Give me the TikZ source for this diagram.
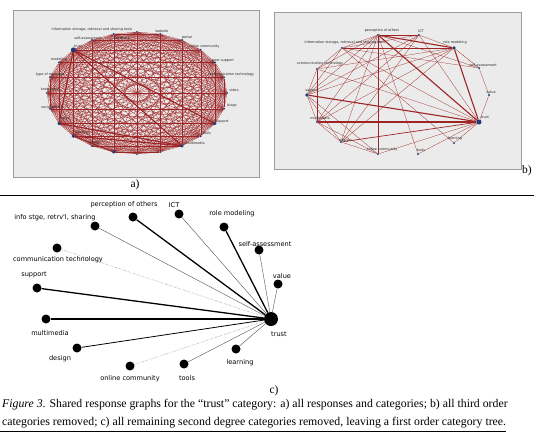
\documentclass[tikz,border=0pt]{standalone}
\usepackage{fontspec}
\setmainfont{Liberation Serif}
\newfontfamily\graphfont{DejaVu Sans}
\usepackage{tikz}
\usetikzlibrary{positioning}

\definecolor{panelgray}{HTML}{EBEBEB}
\definecolor{framegray}{HTML}{9C9C9C}
\definecolor{tiered}{HTML}{9E2526}
\definecolor{vertexblue}{HTML}{1F3C7A}

\begin{document}
\begin{tikzpicture}[x=1pt, y=-1pt,
    panel/.style  = {draw=framegray, fill=panelgray, line width=0.8pt},
    tie/.style    = {draw=tiered, line width=0.25pt},
    bigtie/.style = {draw=tiered, line width=1.1pt},
    vtx/.style    = {circle, fill=vertexblue, inner sep=0pt, minimum size=2.4pt},
    bvtx/.style   = {circle, fill=vertexblue, inner sep=0pt, minimum size=3.6pt},
    hub/.style    = {circle, fill=vertexblue, inner sep=0pt, minimum size=5pt},
    tiny/.style   = {font=\graphfont\fontsize{3.4}{4}\selectfont, inner sep=0pt, text=black!85},
    leaf/.style   = {circle, fill=black, inner sep=0pt, minimum size=9pt},
    root/.style   = {circle, fill=black, inner sep=0pt, minimum size=14pt},
    lbl/.style    = {font=\graphfont\fontsize{6.6}{7.5}\selectfont, inner sep=0pt},
    strong/.style = {line width=1.3pt},
    mid/.style    = {line width=0.8pt},
    weak/.style   = {line width=0.35pt, black!75},
    faint/.style  = {line width=0.35pt, densely dotted, black!65},
    sub/.style    = {font=\fontsize{11.5}{13}\selectfont, inner sep=0pt},
    caption/.style= {font=\fontsize{11.8}{13}\selectfont, inner sep=0pt},
  ]
    \useasboundingbox[fill=white] (0,0) rectangle (549,445);

    % --- a) all responses and categories ---
    \draw[panel] (13,10) rectangle (259,177);
    \foreach \k in {0,...,23}
      \node[vtx] (a\k) at ({137+90*cos(90-15*\k)}, {93-61*sin(90-15*\k)}) {};
    \foreach \i in {0,...,22} {
      \pgfmathtruncatemacro\j{\i+1}
      \foreach \k in {\j,...,23}
        \draw[tie] (a\i) -- (a\k);
    }
    \foreach \i/\k in {21/8, 21/10, 21/15, 21/16, 15/10, 16/8, 15/13, 16/10}
      \draw[bigtie] (a\i) -- (a\k);
    \foreach \k in {8, 10, 13, 15, 16}
      \node[bvtx] at (a\k) {};
    \node[hub] at (a21) {};
    \foreach \k/\txt/\x/\y in {
        0/{information storage, retrieval and sharing tools}/92/30,
        1/website/162/31, 2/portal/187/38, 3/online community/204/47,
        4/peer support/223/61, 5/communication technology/231/75,
        6/video/234/90, 7/blogs/232/106, 8/support/222/122,
        9/tools/207/133, 10/multimedia/195/143, 14/design/95/143,
        15/learning/82/133, 16/value/65/118, 17/social media/52/107,
        18/knowledge/50/90, 19/type of message/50/75, 20/modeling/59/60,
        21/trust/78/46, 22/self-assessment/88/38, 23/feedback/122/38}
      \node[tiny] (la\k) at (\x,\y) {\txt};
    \node[sub] (tagA) at (135,185) {a)};

    % --- b) third order categories removed ---
    \draw[panel] (274,12) rectangle (521,169);
    \node[vtx]  (bperc)   at (378,35)  {};
    \node[vtx]  (bict)    at (419,35)  {};
    \node[bvtx] (brole)   at (454,48)  {};
    \node[vtx]  (bself)   at (479,68)  {};
    \node[vtx]  (bval)    at (489,95)  {};
    \node[hub]  (btrust)  at (479,122) {};
    \node[vtx]  (blearn)  at (454,143) {};
    \node[vtx]  (btools)  at (418,154) {};
    \node[vtx]  (bonline) at (378,154) {};
    \node[vtx]  (bdesign) at (341,142) {};
    \node[vtx]  (bmulti)  at (317,122) {};
    \node[bvtx] (bsupp)   at (307,95)  {};
    \node[vtx]  (bcomm)   at (317,69)  {};
    \node[vtx]  (binfo)   at (342,48)  {};

    \foreach \u/\v in {perc/info, perc/comm, perc/supp, perc/multi, perc/design,
        perc/online, perc/tools, perc/ict, perc/self, ict/supp, ict/multi,
        ict/design, ict/info, ict/trust, ict/role, role/info, role/supp,
        role/multi, role/design, role/self, role/comm, self/val, self/info,
        val/trust, trust/comm, trust/info, trust/learn, trust/tools,
        trust/online, supp/comm, supp/info, supp/multi, supp/design,
        supp/online, multi/design, multi/online, comm/info, comm/multi,
        design/online, info/learn}
      \draw[tie] (b\u) -- (b\v);
    \foreach \u/\v in {trust/perc, trust/role, trust/supp, trust/multi, perc/role}
      \draw[bigtie] (b\u) -- (b\v);
    \draw[tiered, line width=0.7pt] (btrust) -- (bdesign);

    \node[tiny] (lbperc)   at (382,31)  {perception of others};
    \node[tiny] (lbict)    at (421,31)  {ICT};
    \node[tiny] (lbrole)   at (455,43)  {role modeling};
    \node[tiny] (lbself)   at (483,65)  {self-assessment};
    \node[tiny] (lbval)    at (491,92)  {value};
    \node[tiny] (lbtrust)  at (485,117) {trust};
    \node[tiny] (lblearn)  at (455,139) {learning};
    \node[tiny] (lbtools)  at (421,150) {tools};
    \node[tiny] (lbonline) at (382,150) {online community};
    \node[tiny] (lbdesign) at (345,141) {design};
    \node[tiny] (lbmulti)  at (320,118) {multimedia};
    \node[tiny] (lbsupp)   at (312,91)  {support};
    \node[tiny] (lbcomm)   at (320,64)  {communication technology};
    \node[tiny] (lbinfo)   at (345,43)  {information storage, retrieval and sharing tools};
    \node[sub, anchor=west] (tagB) at (522,171) {b)};

    % --- rule between the panels ---
    \coordinate (ruleL) at (0,195);
    \coordinate (ruleR) at (534,195);
    \draw[line width=0.9pt] (ruleL) -- (ruleR);

    % --- c) first order category tree ---
    \node[root] (trust)  at (271,319) {};
    \node[leaf] (perc)   at (133,217) {};
    \node[leaf] (ict)    at (179,214) {};
    \node[leaf] (info)   at (95,226)  {};
    \node[leaf] (role)   at (224,227) {};
    \node[leaf] (self)   at (259,250) {};
    \node[leaf] (comm)   at (57,248)  {};
    \node[leaf] (val)    at (278,284) {};
    \node[leaf] (supp)   at (37,288)  {};
    \node[leaf] (multi)  at (46,319)  {};
    \node[leaf] (design) at (77,348)  {};
    \node[leaf] (learn)  at (236,349) {};
    \node[leaf] (tools)  at (184,364) {};
    \node[leaf] (online) at (130,366) {};

    \draw[strong] (trust) -- (perc);
    \draw[strong] (trust) -- (role);
    \draw[strong] (trust) -- (supp);
    \draw[strong] (trust) -- (multi);
    \draw[mid]    (trust) -- (design);
    \foreach \v in {ict, info, self, val, learn, tools}
      \draw[weak] (trust) -- (\v);
    \draw[faint]  (trust) -- (comm);
    \draw[faint]  (trust) -- (online);

    \node[lbl] (lperc)   at (124,205) {perception of others};
    \node[lbl] (lict)    at (174,205) {ICT};
    \node[lbl] (linfo)   at (55,218)  {info stge, retrv'l, sharing};
    \node[lbl] (lrole)   at (232,214) {role modeling};
    \node[lbl] (lself)   at (265,244) {self-assessment};
    \node[lbl] (lcomm)   at (58,260)  {communication technology};
    \node[lbl] (lsupp)   at (34,275)  {support};
    \node[lbl] (lval)    at (282,276) {value};
    \node[lbl] (lmulti)  at (50,333)  {multimedia};
    \node[lbl] (ltrust)  at (279,334) {trust};
    \node[lbl] (ldesign) at (60,359)  {design};
    \node[lbl] (llearn)  at (240,363) {learning};
    \node[lbl] (ltools)  at (187,378) {tools};
    \node[lbl] (lonline) at (130,379) {online community};
    \node[sub] (tagC) at (274,391) {c)};

    % --- caption ---
    \node[caption, anchor=base west] (cap1) at (2,407)
      {\textit{Figure 3}. Shared response graphs for the “trust” category: a) all responses and categories; b) all third order};
    \node[caption, anchor=base west] (cap2) at (2,425)
      {categories removed; c) all remaining second degree categories removed, leaving a first order category tree.};
    \coordinate (capL) at (0,431);
    \coordinate (capR) at (506,431);
    \draw[line width=0.9pt] (capL) -- (capR);
  \end{tikzpicture}
\end{document}
